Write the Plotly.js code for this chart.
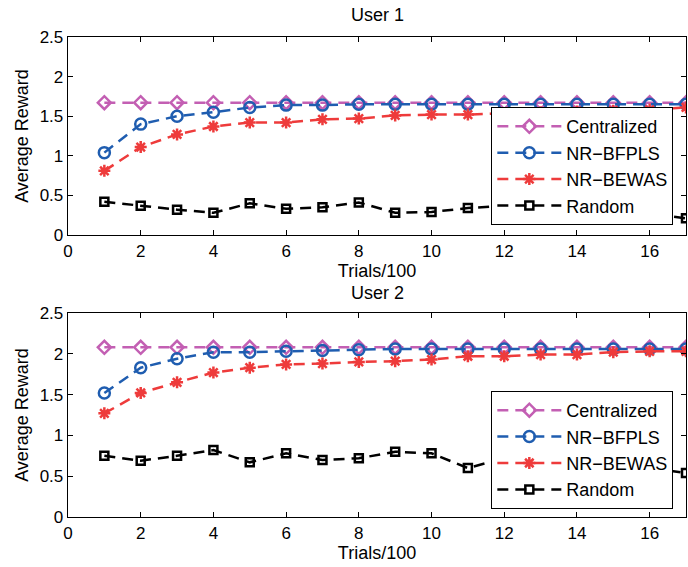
<!DOCTYPE html>
<html>
<head>
<meta charset="utf-8">
<script src="https://cdn.plot.ly/plotly-3.0.1.min.js"></script>
<style>html,body{margin:0;padding:0;background:#fff;}#chart{width:688px;height:567px;}</style>
</head>
<body>
<div id="chart"></div>
<script>
var trials = [1,2,3,4,5,6,7,8,9,10,11,12,13,14,15,16,17];
var seriesNames = ["Centralized", "NR\u2212BFPLS", "NR\u2212BEWAS", "Random"];

var u1Centralized = [1.67,1.67,1.67,1.67,1.67,1.67,1.67,1.67,1.67,1.67,1.67,1.67,1.67,1.67,1.67,1.67,1.67];
var u1Bfpls = [1.04,1.40,1.50,1.55,1.61,1.64,1.64,1.65,1.65,1.65,1.65,1.65,1.65,1.65,1.65,1.65,1.65];
var u1Bewas = [0.81,1.11,1.27,1.37,1.42,1.42,1.46,1.47,1.51,1.52,1.52,1.54,1.55,1.56,1.57,1.58,1.61];
var u1Random = [0.42,0.37,0.32,0.28,0.40,0.33,0.35,0.41,0.28,0.29,0.34,0.37,0.24,0.24,0.30,0.27,0.21];

var u2Centralized = [2.08,2.08,2.08,2.08,2.08,2.08,2.08,2.08,2.08,2.08,2.08,2.08,2.08,2.08,2.08,2.08,2.08];
var u2Bfpls = [1.52,1.83,1.94,2.02,2.02,2.03,2.04,2.05,2.06,2.06,2.06,2.06,2.06,2.06,2.06,2.06,2.06];
var u2Bewas = [1.27,1.52,1.65,1.77,1.83,1.87,1.88,1.90,1.91,1.93,1.97,1.97,1.99,1.99,2.02,2.03,2.03];
var u2Random = [0.75,0.69,0.75,0.82,0.67,0.78,0.70,0.72,0.80,0.78,0.60,0.72,0.68,0.72,0.65,0.60,0.54];

var xTicks = [0,2,4,6,8,10,12,14,16];
var yTicks = [0,0.5,1,1.5,2,2.5];
var panelTitles = ["User 1", "User 2"];

var styles = [
  {color:"#C35FB3", symbol:"diamond-open", size:10},
  {color:"#1F5DB0", symbol:"circle-open", size:11},
  {color:"#EE3B3B", symbol:"asterisk-open", size:10},
  {color:"#000000", symbol:"square-open", size:8}
];

function mk(y, i, xa, ya, leg) {
  var s = styles[i];
  return {
    x: trials, y: y, name: seriesNames[i], type: "scatter", mode: "lines+markers",
    xaxis: xa, yaxis: ya, legend: leg, cliponaxis: true,
    line: {color: s.color, width: 2.5, dash: "11px,7px"},
    marker: {symbol: s.symbol, size: s.size, color: s.color, line: {color: s.color, width: 2.5}}
  };
}

var data = [
  mk(u1Centralized,0,"x","y","legend"), mk(u1Bfpls,1,"x","y","legend"),
  mk(u1Bewas,2,"x","y","legend"), mk(u1Random,3,"x","y","legend"),
  mk(u2Centralized,0,"x2","y2","legend2"), mk(u2Bfpls,1,"x2","y2","legend2"),
  mk(u2Bewas,2,"x2","y2","legend2"), mk(u2Random,3,"x2","y2","legend2")
];

var FONT = "Liberation Sans, Arial, Helvetica, sans-serif";
function xax(anchor) {
  return {anchor: anchor, range: [0,17], tickvals: xTicks, ticktext: xTicks.map(String),
    ticks: "inside", ticklen: 5, tickwidth: 1, tickcolor: "#000", showline: true, linecolor: "#000",
    linewidth: 1.3, mirror: "ticks", showgrid: false, zeroline: false,
    tickfont: {family: FONT, size: 17, color: "#000"},
    title: {text: "Trials/100", font: {family: FONT, size: 18, color: "#000"}, standoff: 3}};
}
function yax(anchor, dom) {
  return {anchor: anchor, domain: dom, range: [0,2.5], tickvals: yTicks, ticktext: yTicks.map(String),
    ticks: "inside", ticklen: 5, tickwidth: 1, tickcolor: "#000", showline: true, linecolor: "#000",
    linewidth: 1.3, mirror: "ticks", showgrid: false, zeroline: false,
    tickfont: {family: FONT, size: 17, color: "#000"},
    title: {text: "Average Reward", font: {family: FONT, size: 18, color: "#000"}, standoff: 6}};
}
function leg(ytop) {
  return {x: 0.685, y: ytop, xanchor: "left", yanchor: "top", bgcolor: "#fff",
    bordercolor: "#000", borderwidth: 1, itemwidth: 64,
    font: {family: FONT, size: 18, color: "#000"}, tracegroupgap: 0};
}

var layout = {
  width: 688, height: 567,
  margin: {l: 68, r: 2, t: 37, b: 50},
  paper_bgcolor: "#fff", plot_bgcolor: "#fff",
  font: {family: FONT, color: "#000"},
  showlegend: true,
  xaxis: xax("y"), yaxis: yax("x", [0.5875, 1]),
  xaxis2: xax("y2"), yaxis2: yax("x2", [0, 0.425]),
  legend: leg(0.854), legend2: leg(0.2625),
  annotations: [
    {text: panelTitles[0], xref: "paper", yref: "paper", x: 0.5, y: 1, yanchor: "bottom", yshift: 10,
     showarrow: false, font: {family: FONT, size: 18, color: "#000"}},
    {text: panelTitles[1], xref: "paper", yref: "paper", x: 0.5, y: 0.425, yanchor: "bottom", yshift: 8,
     showarrow: false, font: {family: FONT, size: 18, color: "#000"}}
  ]
};

Plotly.newPlot("chart", data, layout, {displayModeBar: false, staticPlot: true});
</script>
</body>
</html>
